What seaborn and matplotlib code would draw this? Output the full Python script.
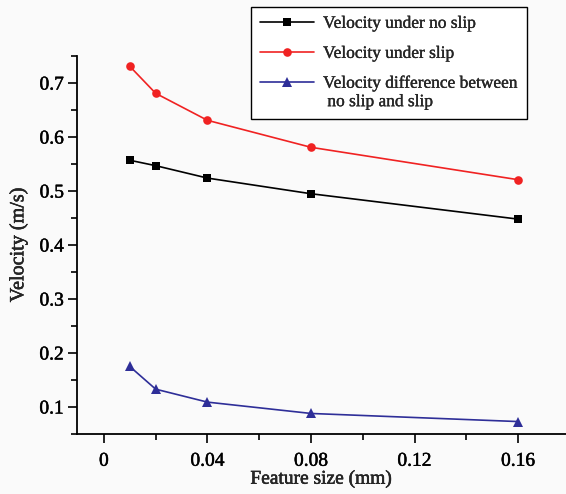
import numpy as np
import matplotlib
matplotlib.use("Agg")
import matplotlib.pyplot as plt
import matplotlib.patheffects as pe
import seaborn as sns
from matplotlib.ticker import MultipleLocator, FixedLocator, FuncFormatter
from matplotlib.legend_handler import HandlerLine2D

# Feature size (mm) and measured velocities (m/s)
feature_size = [0.01, 0.02, 0.04, 0.08, 0.16]
v_no_slip = [0.557, 0.547, 0.524, 0.495, 0.448]
v_slip = [0.731, 0.681, 0.631, 0.581, 0.521]
v_diff = [0.175, 0.133, 0.109, 0.088, 0.073]

series_labels = [
    "Velocity under no slip",
    "Velocity under slip",
    "Velocity difference between\n no slip and slip",
]
x_ticks = [0, 0.04, 0.08, 0.12, 0.16]
x_tick_labels = ["0", "0.04", "0.08", "0.12", "0.16"]
y_ticks = [0.1, 0.2, 0.3, 0.4, 0.5, 0.6, 0.7]

sns.set_style("ticks")
plt.rcParams["font.family"] = ["Liberation Serif", "DejaVu Serif"]

bg = "#fafafa"
fig = plt.figure(figsize=(5.66, 4.94), dpi=100, facecolor=bg)
ax = fig.add_axes([0.136, 0.1215, 0.864, 0.765], facecolor=bg)

styles = [
    dict(color="black", marker="s", markersize=5.4),
    dict(color="#f02222", marker="o", markersize=6.2),
    dict(color="#2e2e98", marker="^", markersize=7.0),
]
for vals, lab, st in zip([v_no_slip, v_slip, v_diff], series_labels, styles):
    sns.lineplot(x=feature_size, y=vals, ax=ax, label=lab, linewidth=1.2,
                 markeredgewidth=0, markeredgecolor=st["color"], **st)

ax.set_xlim(-0.0104, 0.1785)
ax.set_ylim(0.05, 0.75)
ax.xaxis.set_major_locator(FixedLocator(x_ticks))
ax.set_xticklabels(x_tick_labels)
ax.xaxis.set_minor_locator(MultipleLocator(0.02))
ax.yaxis.set_major_locator(FixedLocator(y_ticks))
ax.yaxis.set_major_formatter(FuncFormatter(lambda v, p: f"{v:.1f}"))
ax.yaxis.set_minor_locator(MultipleLocator(0.05))

for side in ("top", "right"):
    ax.spines[side].set_visible(False)
for side in ("left", "bottom"):
    ax.spines[side].set_linewidth(1.3)
    ax.spines[side].set_color("black")

ax.tick_params(which="major", length=6.5, width=1.2, labelsize=14, colors="black", pad=3)
ax.tick_params(which="minor", length=4, width=1.2, colors="black")
ax.tick_params(axis="x", which="major", pad=7)

ax.set_xlabel("Feature size (mm)", fontsize=14, labelpad=0.5)
ax.set_ylabel("Velocity (m/s)", fontsize=14.5, labelpad=8)

# slightly heavier strokes for the printed serif text
heavy = [pe.withStroke(linewidth=0.35, foreground="black")]
for t in ax.get_xticklabels() + ax.get_yticklabels():
    t.set_path_effects(heavy)
ax.xaxis.label.set_path_effects(heavy)
ax.yaxis.label.set_path_effects(heavy)


class RaisedLineHandler(HandlerLine2D):
    """Line handler that lifts the sample onto the first line of a wrapped label."""

    def __init__(self, raise_by, **kw):
        super().__init__(**kw)
        self.raise_by = raise_by

    def create_artists(self, legend, orig_handle, xdescent, ydescent, width,
                       height, fontsize, trans):
        artists = super().create_artists(legend, orig_handle, xdescent, ydescent,
                                         width, height, fontsize, trans)
        for a in artists:
            a.set_ydata(np.asarray(a.get_ydata(), dtype=float) + self.raise_by)
        return artists


handles, labels = ax.get_legend_handles_labels()
ax.get_legend().remove()
leg = fig.legend(
    handles, labels,
    loc="upper left",
    bbox_to_anchor=(251 / 566, 1 - 7 / 494),
    bbox_transform=fig.transFigure,
    borderaxespad=0,
    fontsize=12.5,
    frameon=True,
    fancybox=False,
    framealpha=1,
    facecolor="white",
    edgecolor="black",
    borderpad=0.5,
    handlelength=3.1,
    handletextpad=0.55,
    labelspacing=0.8,
    handler_map={handles[2]: RaisedLineHandler(7.8)},
)
leg.get_frame().set_linewidth(1.0)
for t in leg.get_texts():
    t.set_path_effects([pe.withStroke(linewidth=0.2, foreground="black")])

fig.savefig("out.png", dpi=100, facecolor=bg)
